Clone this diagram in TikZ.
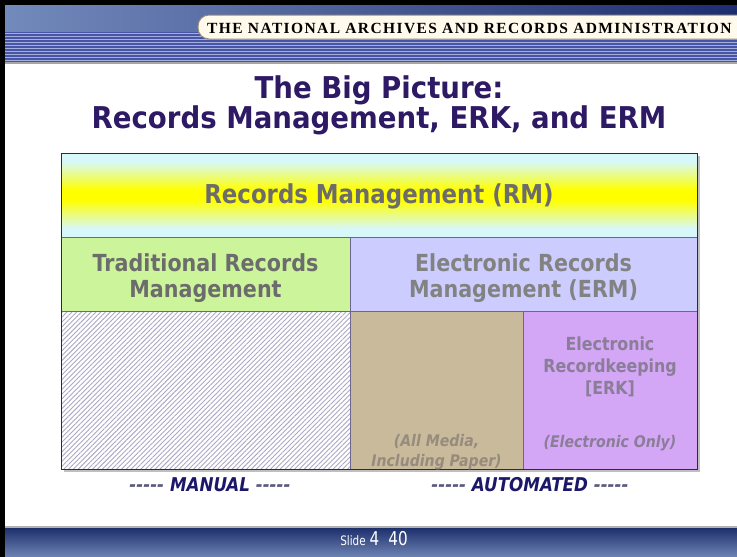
\documentclass[tikz,border=0pt]{standalone}
\usepackage{fontspec}
\setmainfont{DejaVu Sans}
\newfontfamily\tahoma[FakeStretch=0.88]{DejaVu Sans}
\newfontfamily\headfont[FakeStretch=0.92]{DejaVu Sans}
\newfontfamily\narafont[LetterSpace=9]{Liberation Serif}
\newfontfamily\slidefont[FakeStretch=0.8]{DejaVu Sans}
\usepackage{tikz}
\usetikzlibrary{positioning, calc, patterns.meta}
\usepackage{xcolor}
\definecolor{titlenavy}{RGB}{45,25,100}
\definecolor{hdlight}{RGB}{115,138,188}
\definecolor{hdnavy}{RGB}{30,45,112}
\definecolor{stripeblue}{RGB}{72,84,165}
\definecolor{stripelight}{RGB}{165,175,222}
\definecolor{cream}{RGB}{255,250,235}
\definecolor{bannerline}{RGB}{150,140,120}
\definecolor{ftnavy}{RGB}{30,48,108}
\definecolor{ftlight}{RGB}{110,132,180}
\definecolor{rmcyan}{RGB}{215,248,250}
\definecolor{rmyellow}{RGB}{255,255,0}
\definecolor{tradgreen}{RGB}{204,245,155}
\definecolor{ermlav}{RGB}{204,204,255}
\definecolor{mediatan}{RGB}{201,186,156}
\definecolor{erkpurple}{RGB}{212,166,246}
\definecolor{hatchgray}{RGB}{172,168,195}
\definecolor{boxline}{RGB}{45,35,95}
\definecolor{textgray}{RGB}{108,108,108}
\definecolor{erkgray}{RGB}{138,125,152}
\definecolor{mediagray}{RGB}{150,140,125}
\definecolor{dashgray}{RGB}{90,90,125}
\definecolor{labelnavy}{RGB}{28,24,105}
\pgfdeclareverticalshading{rmshade}{100bp}{color(0bp)=(rmcyan); color(30bp)=(rmcyan); color(47bp)=(rmyellow); color(53bp)=(rmyellow); color(70bp)=(rmcyan); color(100bp)=(rmcyan)}
\tikzset{
  boxtext/.style={text=textgray, align=center, font=\tahoma\bfseries\fontsize{23.5}{26}\selectfont},
  smalltext/.style={align=center, font=\tahoma\bfseries\fontsize{18}{22}\selectfont},
  notetext/.style={align=center, font=\tahoma\bfseries\itshape\fontsize{16}{20}\selectfont},
  dashlabel/.style={text=dashgray, font=\tahoma\bfseries\itshape\fontsize{19}{22}\selectfont},
}
\begin{document}
\begin{tikzpicture}[x=1pt, y=-1pt]
  \useasboundingbox (0,0) rectangle (737,557);
  \fill[white] (0,0) rectangle (737,557);

  % Header band
  \shade[left color=hdlight, right color=hdnavy] (5,5) rectangle (737,32);
  \fill[stripeblue] (5,32) rectangle (737,62);
  \foreach \y in {33.5,36.5,...,61} \draw[stripelight, line width=1.2pt] (5,\y) -- (737,\y);
  \fill[black!35] (5,62) rectangle (737,64);
  \draw[fill=cream, draw=bannerline, line width=1pt, rounded corners=11pt] (198,15) rectangle (770,39);
  \node[anchor=base west, inner sep=0pt, font=\narafont\bfseries\fontsize{15.5}{16}\selectfont] (nara) at (207,33) {THE NATIONAL ARCHIVES AND RECORDS ADMINISTRATION};

  % Frame
  \fill[black] (0,0) rectangle (737,5);
  \fill[black] (0,0) rectangle (5,557);

  % Title
  \node[text=titlenavy, align=center, font=\headfont\bfseries\fontsize{30}{28}\selectfont] (title) at (379,105) {The Big Picture:\\Records Management, ERK, and ERM};

  % Boxes
  \fill[black, opacity=0.25] (64,156) rectangle (700,472);
  \shade[shading=rmshade] (61,153) rectangle (697,237);
  \fill[tradgreen] (61,237) rectangle (350,311);
  \fill[ermlav] (350,237) rectangle (697,311);
  \fill[white] (61,311) rectangle (350,469);
  \fill[pattern={Lines[angle=45, distance=3.4pt, line width=0.9pt]}, pattern color=hatchgray] (61,311) rectangle (350,469);
  \fill[mediatan] (350,311) rectangle (523,469);
  \fill[erkpurple] (523,311) rectangle (697,469);
  \draw[boxline!70, line width=0.8pt] (61,237) -- (697,237) (61,311) -- (697,311) (350,237) -- (350,469) (523,311) -- (523,469);
  \draw[boxline, line width=1pt] (61,153) rectangle (697,469);

  % Texts
  \node[boxtext, font=\tahoma\bfseries\fontsize{26}{28}\selectfont] (rm) at (379,196) {Records Management (RM)};
  \node[boxtext] (trad) at (205.5,278) {Traditional Records\\Management};
  \node[boxtext, text=textgray!85] (erm) at (523.5,278) {Electronic Records\\Management (ERM)};
  \node[smalltext, text=erkgray] (erk) at (610,367) {Electronic\\Recordkeeping\\{}[ERK]};
  \node[notetext, text=erkgray] (erkonly) at (610,443) {(Electronic Only)};
  \node[notetext, text=mediagray] (media) at (436.5,452) {(All Media,\\Including Paper)};

  % Bottom labels
  \node[dashlabel] (manual) at (210,485) {----- {\color{labelnavy}MANUAL} -----};
  \node[dashlabel] (auto) at (530,485) {----- {\color{labelnavy}AUTOMATED} -----};

  % Footer
  \fill[black!30] (5,526) rectangle (737,528);
  \shade[top color=ftnavy, bottom color=ftlight] (5,528) rectangle (737,557);
  \node[text=white, font=\slidefont, anchor=base] (slide) at (374,545) {{\fontsize{13}{14}\selectfont Slide}\hspace{4pt}{\fontsize{19}{20}\selectfont 4\hspace{9pt}40}};
\end{tikzpicture}
\end{document}
